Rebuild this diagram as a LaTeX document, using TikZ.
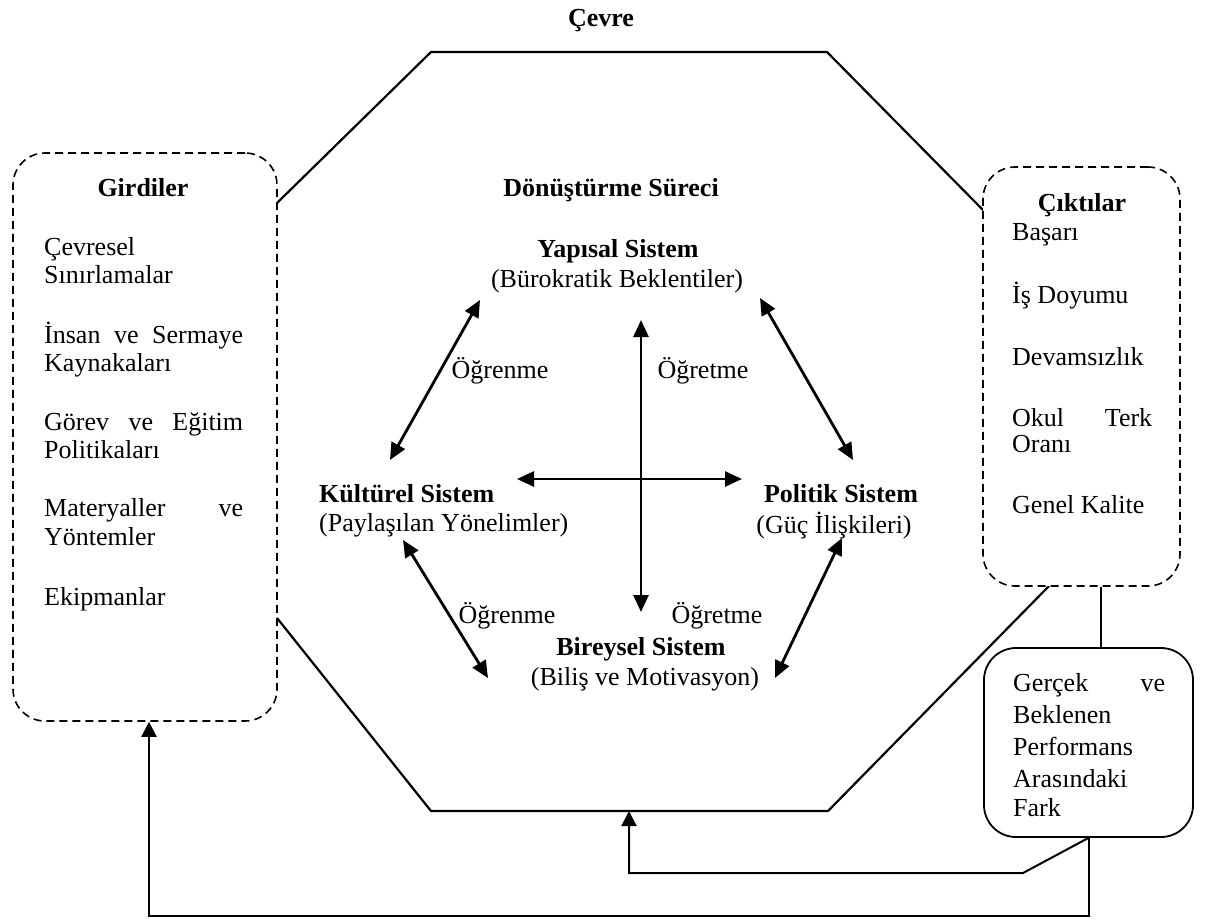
\documentclass[tikz,border=0pt]{standalone}
\usepackage{fontspec}
\setmainfont{Liberation Serif}
\usetikzlibrary{arrows.meta}
\begin{document}
\begin{tikzpicture}[x=1pt,y=-1pt,
  txt/.style={font=\fontsize{26}{30}\selectfont, inner sep=0pt, anchor=mid, yshift=-4.5pt},
  btxt/.style={font=\fontsize{26}{30}\selectfont\bfseries, inner sep=0pt, anchor=mid, yshift=-4.5pt},
  lw/.style={txt, anchor=mid west},
  dbox/.style={draw, dash pattern=on 8pt off 5pt, rounded corners=32pt, line width=1.6pt, inner sep=0pt, fill=white},
  sbox/.style={draw, rounded corners=32pt, line width=1.8pt, inner sep=0pt, fill=white},
  octa/.style={line width=2.2pt},
  conn/.style={line width=1.9pt},
  darr/.style={line width=2.8pt, {Triangle[length=17pt,width=15pt]}-{Triangle[length=17pt,width=15pt]}},
  farr/.style={line width=2pt, -{Triangle[length=15pt,width=15pt]}}
]
\useasboundingbox (0,0) rectangle (1205,919);

% octagon (environment boundary)
\coordinate (oL1) at (277,203);
\coordinate (oTL) at (431,52);
\coordinate (oTR) at (827,52);
\coordinate (oR1) at (983,210);
\coordinate (oL2) at (277,618);
\coordinate (oBL) at (431,811);
\coordinate (oBR) at (828,811);
\coordinate (oR2) at (1049,586);
\coordinate (oB) at (629,811);
\draw[octa] (oL1) -- (oTL) -- (oTR) -- (oR1);
\draw[octa] (oL2) -- (oBL) -- (oBR) -- (oR2);

% boxes
\node[dbox, minimum width=264pt, minimum height=568pt] (gir) at (145,437) {};
\node[dbox, minimum width=197pt, minimum height=419pt] (cik) at (1081.5,376.5) {};
\node[sbox, minimum width=209pt, minimum height=189pt] (fark) at (1088.5,742.5) {};

% titles
\node[btxt] (cevre) at (601,20) {Çevre};
\node[btxt] (donus) at (611,190) {Dönüştürme Süreci};

% Girdiler
\node[btxt] (girT) at (143,190) {Girdiler};
\node[lw] (g1) at (44,249) {Çevresel};
\node[lw] (g2) at (44,277) {Sınırlamalar};
\node[lw] (g3) at (44,337) {\hbox to 199pt{İnsan\hfill ve\hfill Sermaye}};
\node[lw] (g4) at (44,365) {Kaynakaları};
\node[lw] (g5) at (44,424) {\hbox to 199pt{Görev\hfill ve\hfill Eğitim}};
\node[lw] (g6) at (44,452) {Politikaları};
\node[lw] (g7) at (44,510) {\hbox to 199pt{Materyaller\hfill ve}};
\node[lw] (g8) at (44,539) {Yöntemler};
\node[lw] (g9) at (44,599) {Ekipmanlar};

% Ciktilar
\node[btxt] (cikT) at (1082,205) {Çıktılar};
\node[lw] (c1) at (1012,234) {Başarı};
\node[lw] (c2) at (1012,297) {İş Doyumu};
\node[lw] (c3) at (1012,359) {Devamsızlık};
\node[lw] (c4) at (1012,420) {\hbox to 140pt{Okul\hfill Terk}};
\node[lw] (c5) at (1012,446) {Oranı};
\node[lw] (c6) at (1012,507) {Genel Kalite};

% Fark
\node[lw] (f1) at (1013,685) {\hbox to 152pt{Gerçek\hfill ve}};
\node[lw] (f2) at (1013,717) {Beklenen};
\node[lw] (f3) at (1013,749) {Performans};
\node[lw] (f4) at (1013,781) {Arasındaki};
\node[lw] (f5) at (1013,810) {Fark};

% systems
\node[btxt] (yapT) at (618,251) {Yapısal Sistem};
\node[txt] (yapS) at (617,281) {(Bürokratik Beklentiler)};
\node[btxt, anchor=mid west] (kulT) at (319,496) {Kültürel Sistem};
\node[txt, anchor=mid west] (kulS) at (319,525) {(Paylaşılan Yönelimler)};
\node[btxt] (polT) at (841,496) {Politik Sistem};
\node[txt] (polS) at (834,527) {(Güç İlişkileri)};
\node[btxt] (birT) at (641,649) {Bireysel Sistem};
\node[txt] (birS) at (645,679) {(Biliş ve Motivasyon)};

% labels
\node[txt] (l1) at (500,372) {Öğrenme};
\node[txt] (l2) at (703,372) {Öğretme};
\node[txt] (l3) at (507,617) {Öğrenme};
\node[txt] (l4) at (717,617) {Öğretme};

% arrows
\coordinate (a1s) at (480,300); \coordinate (a1e) at (390,460);
\coordinate (a2s) at (641,320); \coordinate (a2e) at (641,612);
\coordinate (a3s) at (517,479); \coordinate (a3e) at (742,479);
\coordinate (a4s) at (760,298); \coordinate (a4e) at (853,460);
\coordinate (a5s) at (403,540); \coordinate (a5e) at (488,678);
\coordinate (a6s) at (842,538); \coordinate (a6e) at (775,678);
\draw[darr] (a1s) -- (a1e);
\draw[darr] (a2s) -- (a2e);
\draw[darr] (a3s) -- (a3e);
\draw[darr] (a4s) -- (a4e);
\draw[darr] (a5s) -- (a5e);
\draw[darr] (a6s) -- (a6e);

% connectors
\draw[conn] ([xshift=19.5pt]cik.south) -- ([xshift=19.5pt]cik.south |- fark.north);
\coordinate (fb1) at (1023,873);
\coordinate (fb2) at (629,873);
\draw[farr] (fark.south) -- (fb1) -- (fb2) -- (oB);
\draw[farr] (fark.south) -- ++(0,78) -| ([xshift=4pt]gir.south);
\end{tikzpicture}
\end{document}
